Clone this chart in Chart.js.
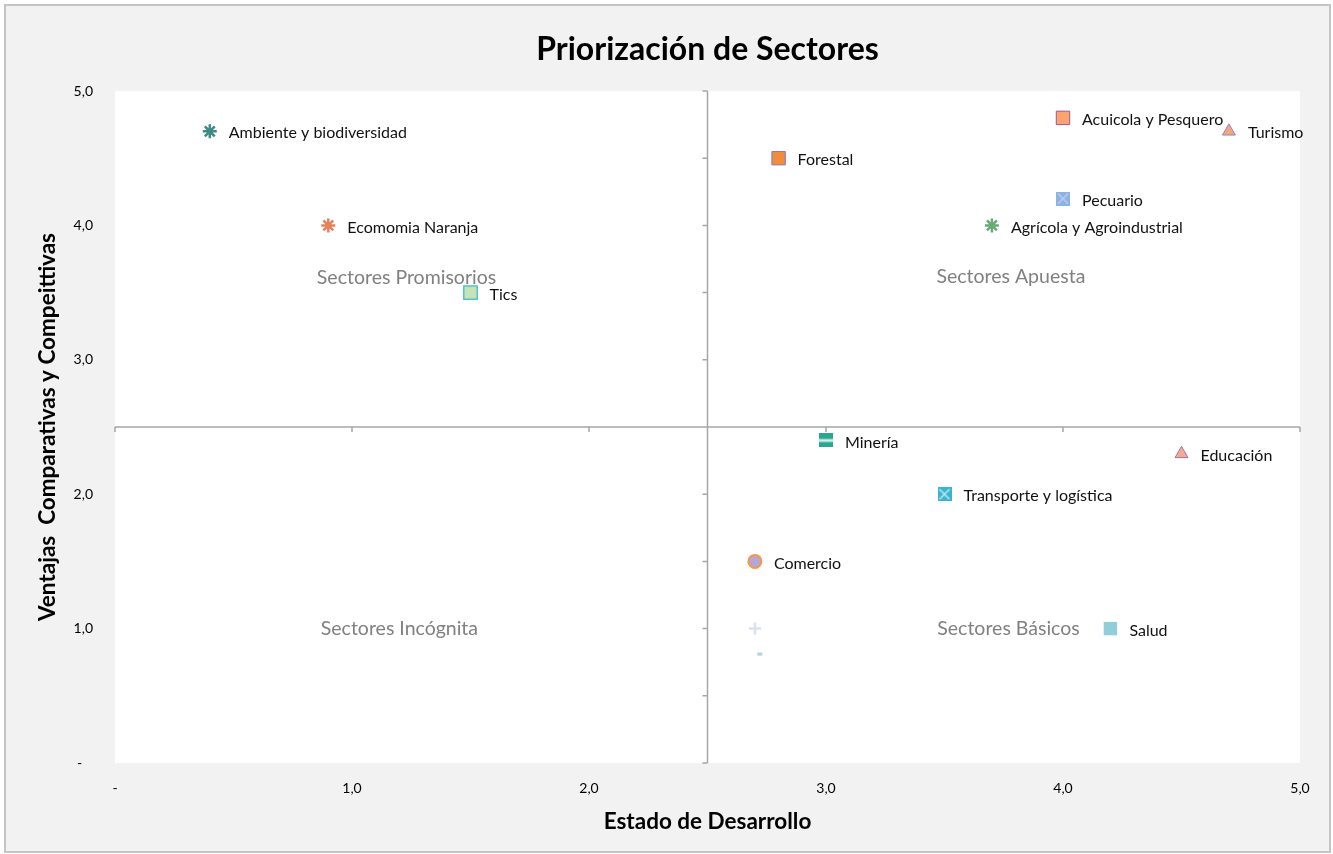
<!DOCTYPE html>
<html><head><meta charset="utf-8">
<script src="https://cdn.jsdelivr.net/npm/chart.js@4.4.0/dist/chart.umd.min.js"></script>
<style>html,body{margin:0;padding:0;background:#fff}#wrap{width:1333px;height:854px}</style>
</head><body><div id="wrap"><canvas id="c" width="1333" height="854"></canvas></div>
<script>
// ---- data ----
const sectorNames = ['Ambiente y biodiversidad','Ecomomia Naranja','Tics','Forestal','Acuicola y Pesquero','Turismo','Pecuario','Agrícola y Agroindustrial','Minería','Educación','Transporte y logística','Comercio','Salud','',''];
const xValues = [0.4, 0.9, 1.5, 2.8, 4.0, 4.7, 4.0, 3.7, 3.0, 4.5, 3.5, 2.7, 4.2, 2.7, 2.71];
const yValues = [4.7, 4.0, 3.5, 4.5, 4.8, 4.7, 4.2, 4.0, 2.4, 2.3, 2.0, 1.5, 1.0, 1.0, 0.81];
const xTickLabels = ['-', '1,0', '2,0', '3,0', '4,0', '5,0'];
const yTickLabels = ['-   ', '1,0', '2,0', '3,0', '4,0', '5,0'];
const quadrantNames = ['Sectores Promisorios','Sectores Apuesta','Sectores Incógnita','Sectores Básicos'];
const quadrantX = [1.23, 3.78, 1.2, 3.77];
const quadrantY = [3.61, 3.62, 1.0, 1.0];
const crossValueX = 2.5;
const crossValueY = 2.5;

// ---- marker styles ----
function boxMarker(fill, kind, line) {
  const c = document.createElement('canvas'); c.width = 14; c.height = 14;
  const g = c.getContext('2d');
  g.fillStyle = fill; g.fillRect(0, 0, 14, 14);
  g.strokeStyle = line; g.lineWidth = 1.5;
  g.beginPath();
  if (kind === 'x') { g.moveTo(2,2); g.lineTo(12,12); g.moveTo(12,2); g.lineTo(2,12); }
  if (kind === 'bar') { g.lineWidth = 3; g.moveTo(0,7); g.lineTo(14,7); }
  g.stroke();
  return c;
}
const markerStyles = [
  {pointStyle:'star', bg:'#4a9a8c', border:'#3d8a86', r:7, bw:2.5},
  {pointStyle:'star', bg:'#ec7f4c', border:'#e4815a', r:7, bw:2.5},
  {pointStyle:'rect', bg:'#c6e3b8', border:'#4cc5d0', r:9.5, bw:1.5},
  {pointStyle:'rect', bg:'#f08c3c', border:'#8c7ab4', r:9.5, bw:1},
  {pointStyle:'rect', bg:'#f9a36f', border:'#a0529a', r:9.5, bw:1},
  {pointStyle:'triangle', bg:'#f3a57c', border:'#9b86bb', r:7.5, bw:1},
  {pointStyle:boxMarker('#8db3e2','x','#b7d0ef'), bg:'#8db3e2', border:'#8db3e2', r:7, bw:0},
  {pointStyle:'star', bg:'#6aa97a', border:'#6aa97a', r:7, bw:2.5},
  {pointStyle:boxMarker('#2aa58f','bar','#cfeee6'), bg:'#2aa58f', border:'#2aa58f', r:7, bw:0},
  {pointStyle:'triangle', bg:'#f7a98b', border:'#9b74b3', r:7.5, bw:1},
  {pointStyle:boxMarker('#3cb4d0','x','#bfe8f2'), bg:'#3cb4d0', border:'#3cb4d0', r:7, bw:0},
  {pointStyle:'circle', bg:'#b4a7d6', border:'#f79646', r:6.5, bw:2},
  {pointStyle:'rect', bg:'#92cddc', border:'#92cddc', r:9.5, bw:0},
  {pointStyle:'cross', bg:'#dcdff2', border:'#dcdff2', r:6, bw:2.5},
  {pointStyle:'dash', bg:'#a9d6df', border:'#a9d6df', r:5, bw:3}
];

const datasets = sectorNames.map((name, i) => ({
  label: name,
  data: [{x: xValues[i], y: yValues[i]}],
  pointStyle: markerStyles[i].pointStyle,
  backgroundColor: markerStyles[i].bg,
  borderColor: markerStyles[i].border,
  borderWidth: markerStyles[i].bw,
  pointRadius: markerStyles[i].r,
  pointHoverRadius: markerStyles[i].r
}));

Chart.defaults.font.family = 'Lato, "Open Sans", sans-serif';

const backgroundPlugin = {
  id: 'bg',
  beforeDraw(chart) {
    const {ctx, chartArea: a} = chart;
    ctx.save();
    ctx.fillStyle = '#ffffff'; ctx.fillRect(0, 0, chart.width, chart.height);
    ctx.fillStyle = '#f2f2f2'; ctx.fillRect(6, 6, chart.width - 10, chart.height - 9);
    ctx.strokeStyle = '#c4c4c4'; ctx.lineWidth = 2;
    ctx.strokeRect(5, 5, chart.width - 8, chart.height - 7);
    ctx.fillStyle = '#ffffff'; ctx.fillRect(a.left, a.top, a.right - a.left, a.bottom - a.top);
    ctx.restore();
  }
};

const quadrantPlugin = {
  id: 'quadrants',
  beforeDatasetsDraw(chart) {
    const {ctx, chartArea: a, scales: {x, y}} = chart;
    const cx = x.getPixelForValue(crossValueX), cy = y.getPixelForValue(crossValueY);
    ctx.save();
    ctx.strokeStyle = '#a6a6a6'; ctx.lineWidth = 1.5;
    ctx.beginPath();
    ctx.moveTo(a.left, cy); ctx.lineTo(a.right, cy);
    ctx.moveTo(cx, a.top); ctx.lineTo(cx, a.bottom);
    for (let v = 0; v <= 5; v += 1) { const px = x.getPixelForValue(v); ctx.moveTo(px, cy); ctx.lineTo(px, cy + 5); }
    for (let v = 0; v <= 5; v += 0.5) { const py = y.getPixelForValue(v); ctx.moveTo(cx, py); ctx.lineTo(cx - 5, py); }
    ctx.stroke();
    ctx.fillStyle = '#808080';
    ctx.font = '19.5px Lato, "Open Sans", sans-serif';
    ctx.textAlign = 'center'; ctx.textBaseline = 'middle';
    quadrantNames.forEach((t, i) => ctx.fillText(t, x.getPixelForValue(quadrantX[i]), y.getPixelForValue(quadrantY[i])));
    ctx.restore();
  }
};

const labelPlugin = {
  id: 'pointLabels',
  afterDatasetsDraw(chart) {
    const {ctx} = chart;
    ctx.save();
    ctx.fillStyle = '#111111';
    ctx.font = '16px Lato, "Open Sans", sans-serif';
    ctx.textAlign = 'left'; ctx.textBaseline = 'middle';
    chart.data.datasets.forEach((ds, i) => {
      if (!ds.label) return;
      const el = chart.getDatasetMeta(i).data[0];
      ctx.fillText(ds.label, el.x + 19, el.y + 2);
    });
    ctx.restore();
  }
};

new Chart(document.getElementById('c'), {
  type: 'scatter',
  data: { datasets },
  plugins: [backgroundPlugin, quadrantPlugin, labelPlugin],
  options: {
    responsive: false,
    devicePixelRatio: 1,
    animation: false,
    layout: { padding: { left: 0, right: 33, top: 0, bottom: 0 } },
    plugins: {
      legend: { display: false },
      tooltip: { enabled: false },
      title: {
        display: true,
        text: 'Priorización de Sectores',
        fullSize: false,
        color: '#000000',
        font: { size: 32, weight: 'bold' },
        padding: { top: 30.8, bottom: 21.8 }
      }
    },
    scales: {
      x: {
        type: 'linear', min: 0, max: 5,
        grid: { display: false }, border: { display: false },
        ticks: { stepSize: 1, padding: 9, color: '#000000', font: { size: 14 },
                 callback: (v) => xTickLabels[Math.round(v)] },
        title: { display: true, text: 'Estado de Desarrollo', color: '#000000',
                 font: { size: 22.5, weight: 'bold' }, padding: { top: 0, bottom: 18.5 } },
        afterFit: (s) => { s.height = 91; }
      },
      y: {
        type: 'linear', min: 0, max: 5,
        grid: { display: false }, border: { display: false },
        ticks: { stepSize: 1, padding: 14, color: '#000000', font: { size: 14 },
                 callback: (v) => yTickLabels[Math.round(v)] },
        title: { display: true, text: 'Ventajas  Comparativas y Compeittivas', color: '#000000',
                 font: { size: 22.5, weight: 'bold' }, padding: { top: 34.5, bottom: 0 } },
        afterFit: (s) => { s.width = 115; }
      }
    }
  }
});
</script>
</body></html>
